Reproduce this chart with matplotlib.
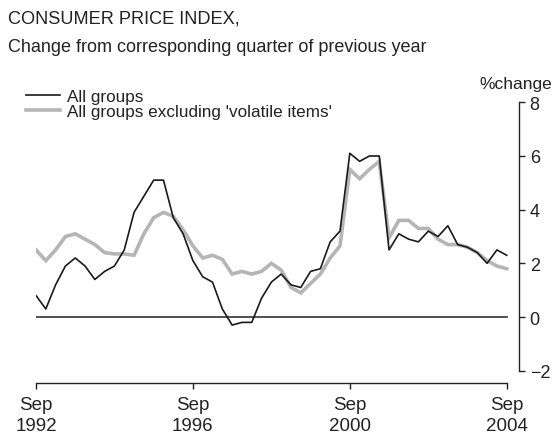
import matplotlib.pyplot as plt
import numpy as np

# Quarterly, Sep 1992 .. Sep 2004 (annual % change)
quarters = np.arange(49)
all_groups = [0.8, 0.3, 1.2, 1.9, 2.2, 1.9, 1.4, 1.7, 1.9, 2.5,
              3.9, 4.5, 5.1, 5.1, 3.7, 3.1, 2.1, 1.5, 1.3, 0.3,
              -0.3, -0.2, -0.2, 0.7, 1.3, 1.6, 1.2, 1.1, 1.7, 1.8,
              2.8, 3.2, 6.1, 5.8, 6.0, 6.0, 2.5, 3.1, 2.9, 2.8,
              3.2, 3.0, 3.4, 2.7, 2.6, 2.4, 2.0, 2.5, 2.3]
excl_volatile = [2.5, 2.1, 2.5, 3.0, 3.1, 2.9, 2.7, 2.4, 2.35, 2.35,
                 2.3, 3.1, 3.7, 3.9, 3.75, 3.25, 2.65, 2.2, 2.3, 2.15,
                 1.6, 1.7, 1.6, 1.7, 2.0, 1.75, 1.1, 0.9, 1.25, 1.6,
                 2.2, 2.65, 5.5, 5.15, 5.5, 5.8, 2.95, 3.6, 3.6, 3.3,
                 3.3, 2.9, 2.7, 2.7, 2.6, 2.4, 2.1, 1.9, 1.8]
tick_pos = [0, 16, 32, 48]
tick_labels = ["Sep\n1992", "Sep\n1996", "Sep\n2000", "Sep\n2004"]
y_ticks = [-2, 0, 2, 4, 6, 8]

plt.rcParams['font.family'] = ['Liberation Sans', 'DejaVu Sans']
txt = "#222222"

fig = plt.figure(figsize=(5.53, 4.35), dpi=100)
W, H = 553, 435
ax = fig.add_axes([36 / W, 1 - 371.7 / H, (519.3 - 36) / W, (371.7 - 103.3) / H])

ax.plot([0, 48], [0, 0], color="#333333", lw=1.2)
ax.plot(quarters, excl_volatile, color="#b5b5b5", lw=2.6,
        label="All groups excluding 'volatile items'", solid_joinstyle="miter")
ax.plot(quarters, all_groups, color="#1a1a1a", lw=1.2, label="All groups")

ax.set_xlim(0, 48 + 12.6 / 9.81)
ax.set_ylim(-2, 8)

for s in ["top", "left"]:
    ax.spines[s].set_visible(False)
ax.spines["right"].set_color(txt)
ax.spines["bottom"].set_color(txt)
ax.spines["right"].set_linewidth(1.0)
ax.spines["bottom"].set_linewidth(1.0)
ax.spines["bottom"].set_position(("outward", 9))
ax.spines["bottom"].set_bounds(0, 48)

ax.yaxis.tick_right()
ax.set_yticks(y_ticks)
ax.set_yticklabels([("\u2212%d" % -v) if v < 0 else str(v) for v in y_ticks])
ax.tick_params(axis="y", direction="out", length=4.5, width=1.0, pad=3,
               labelsize=13, colors=txt)
ax.set_xticks(tick_pos)
ax.set_xticklabels(tick_labels, linespacing=1.3)
ax.tick_params(axis="x", direction="out", length=4.5, width=1.0, pad=5,
               labelsize=13.5, colors=txt)

handles, labels = ax.get_legend_handles_labels()
ax.legend(handles[::-1], labels[::-1], loc="upper left",
          bbox_to_anchor=(26 / W, 1 - 90 / H), bbox_transform=fig.transFigure,
          frameon=False, fontsize=12.3, handlelength=2.0, handletextpad=0.4,
          labelspacing=0.0, borderaxespad=0, borderpad=0, labelcolor=txt)

fig.text(8 / W, 1 - 11 / H, "CONSUMER PRICE INDEX,",
         ha="left", va="top", fontsize=13.1, color=txt)
fig.text(8 / W, 1 - 39.5 / H, "Change from corresponding quarter of previous year",
         ha="left", va="top", fontsize=13.0, color=txt)
fig.text(552 / W, 1 - 77 / H, "%change", ha="right", va="top", fontsize=12.5, color=txt)

fig.savefig("out.png", dpi=100)
